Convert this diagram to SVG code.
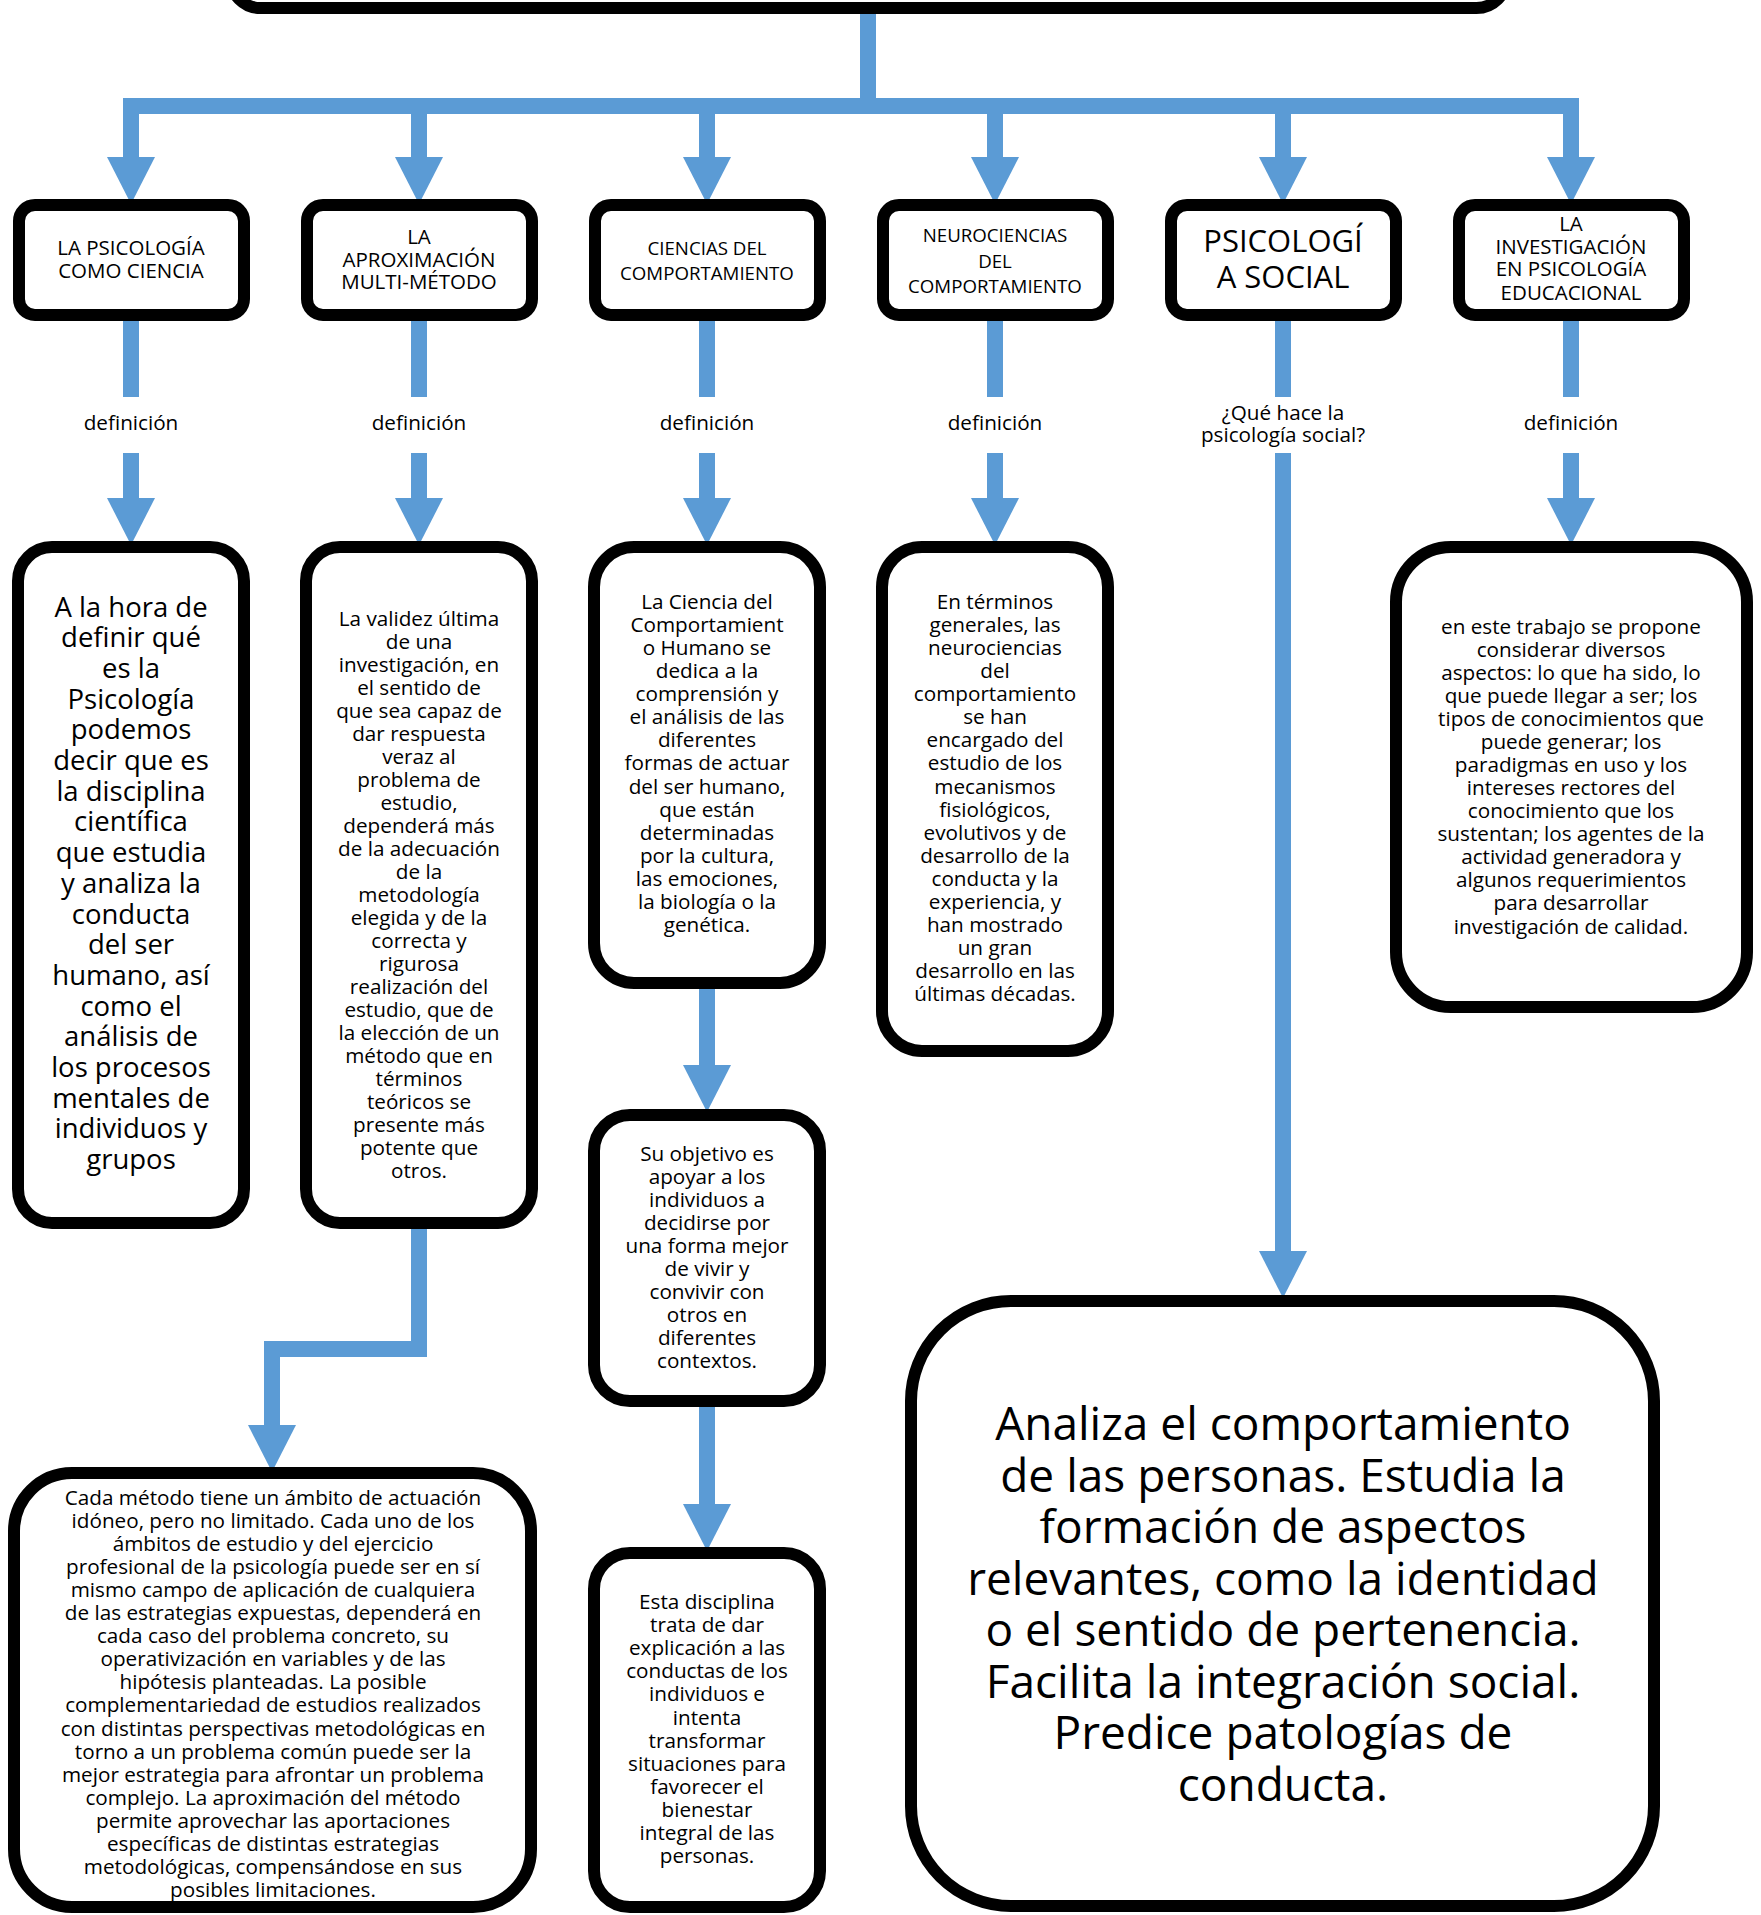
<svg xmlns="http://www.w3.org/2000/svg" width="1761" height="1915" viewBox="0 0 1761 1915">
<style>
.box{fill:#fff;stroke:#000;stroke-width:12}
.con{fill:none;stroke:#5B9BD5;stroke-width:16;stroke-linejoin:miter}
.t{font-family:"Open Sans","Noto Sans",sans-serif;fill:#000;text-anchor:middle}
.h{font-size:20.5px}
.hs{font-size:18.7px}
.b{font-size:20.7px}
.lbl{font-size:20.7px}
</style>
<defs>
<marker id="arr" markerUnits="userSpaceOnUse" viewBox="0 0 48 48" markerWidth="48" markerHeight="48" refX="0" refY="24" orient="auto">
<path d="M0,0 L47,24 L0,48 Z" fill="#5B9BD5"/>
</marker>
</defs>
<rect width="1761" height="1915" fill="#fff"/>

<g id="connectors">
<path class="con" d="M868,4 V106"/>
<path class="con" d="M123,106 H1579"/>
<path class="con" d="M131,106 V157" marker-end="url(#arr)"/>
<path class="con" d="M419,106 V157" marker-end="url(#arr)"/>
<path class="con" d="M707,106 V157" marker-end="url(#arr)"/>
<path class="con" d="M995,106 V157" marker-end="url(#arr)"/>
<path class="con" d="M1283,106 V157" marker-end="url(#arr)"/>
<path class="con" d="M1571,106 V157" marker-end="url(#arr)"/>
<path class="con" d="M131,315 V397"/>
<path class="con" d="M419,315 V397"/>
<path class="con" d="M707,315 V397"/>
<path class="con" d="M995,315 V397"/>
<path class="con" d="M1283,315 V397"/>
<path class="con" d="M1571,315 V397"/>
<path class="con" d="M131,453 V498" marker-end="url(#arr)"/>
<path class="con" d="M419,453 V498" marker-end="url(#arr)"/>
<path class="con" d="M707,453 V498" marker-end="url(#arr)"/>
<path class="con" d="M995,453 V498" marker-end="url(#arr)"/>
<path class="con" d="M1571,453 V498" marker-end="url(#arr)"/>
<path class="con" d="M1283,453 V1251" marker-end="url(#arr)"/>
<path class="con" d="M707,985 V1065" marker-end="url(#arr)"/>
<path class="con" d="M707,1403 V1504" marker-end="url(#arr)"/>
<path class="con" d="M419,1222 V1349 H272 V1425" marker-end="url(#arr)"/>
</g>

<g id="top">
<rect class="box" x="230.5" y="-200" width="1276" height="208" rx="30"/>
</g>

<g id="h1">
<rect class="box" x="19" y="205" width="225" height="110" rx="16"/>
<text class="t h"><tspan x="131" y="254.5">LA PSICOLOGÍA</tspan><tspan x="131" y="277.5">COMO CIENCIA</tspan></text>
</g>
<g id="h2">
<rect class="box" x="307" y="205" width="225" height="110" rx="16"/>
<text class="t h"><tspan x="419" y="244">LA</tspan><tspan x="419" y="266.5">APROXIMACIÓN</tspan><tspan x="419" y="288.5">MULTI-MÉTODO</tspan></text>
</g>
<g id="h3">
<rect class="box" x="595" y="205" width="225" height="110" rx="16"/>
<text class="t hs"><tspan x="707" y="255">CIENCIAS DEL</tspan><tspan x="707" y="280">COMPORTAMIENTO</tspan></text>
</g>
<g id="h4">
<rect class="box" x="883" y="205" width="225" height="110" rx="16"/>
<text class="t hs"><tspan x="995" y="242">NEUROCIENCIAS</tspan><tspan x="995" y="268">DEL</tspan><tspan x="995" y="293">COMPORTAMIENTO</tspan></text>
</g>
<g id="h5">
<rect class="box" x="1171" y="205" width="225" height="110" rx="16"/>
<text class="t" style="font-size:31px"><tspan x="1283" y="252">PSICOLOGÍ</tspan><tspan x="1283" y="288">A SOCIAL</tspan></text>
</g>
<g id="h6">
<rect class="box" x="1459" y="205" width="225" height="110" rx="16"/>
<text class="t h"><tspan x="1571" y="231">LA</tspan><tspan x="1571" y="254">INVESTIGACIÓN</tspan><tspan x="1571" y="276">EN PSICOLOGÍA</tspan><tspan x="1571" y="300">EDUCACIONAL</tspan></text>
</g>

<g id="labels">
<text class="t lbl" x="131" y="429.5">definición</text>
<text class="t lbl" x="419" y="429.5">definición</text>
<text class="t lbl" x="707" y="429.5">definición</text>
<text class="t lbl" x="995" y="429.5">definición</text>
<text class="t lbl"><tspan x="1283" y="419.5">¿Qué hace la</tspan><tspan x="1283" y="441.5">psicología social?</tspan></text>
<text class="t lbl" x="1571" y="429.5">definición</text>
</g>

<g id="boxA">
<rect class="box" x="18" y="547" width="226" height="676" rx="34"/>
<text class="t" style="font-size:27.5px"><tspan x="131" y="616.5">A la hora de</tspan><tspan x="131" dy="30.7">definir qué</tspan><tspan x="131" dy="30.7">es la</tspan><tspan x="131" dy="30.7">Psicología</tspan><tspan x="131" dy="30.7">podemos</tspan><tspan x="131" dy="30.7">decir que es</tspan><tspan x="131" dy="30.7">la disciplina</tspan><tspan x="131" dy="30.7">científica</tspan><tspan x="131" dy="30.7">que estudia</tspan><tspan x="131" dy="30.7">y analiza la</tspan><tspan x="131" dy="30.7">conducta</tspan><tspan x="131" dy="30.7">del ser</tspan><tspan x="131" dy="30.7">humano, así</tspan><tspan x="131" dy="30.7">como el</tspan><tspan x="131" dy="30.7">análisis de</tspan><tspan x="131" dy="30.7">los procesos</tspan><tspan x="131" dy="30.7">mentales de</tspan><tspan x="131" dy="30.7">individuos y</tspan><tspan x="131" dy="30.7">grupos</tspan></text>
</g>

<g id="boxB">
<rect class="box" x="306" y="547" width="226" height="676" rx="34"/>
<text class="t b"><tspan x="419" y="625.5">La validez última</tspan><tspan x="419" dy="23.02">de una</tspan><tspan x="419" dy="23.02">investigación, en</tspan><tspan x="419" dy="23.02">el sentido de</tspan><tspan x="419" dy="23.02">que sea capaz de</tspan><tspan x="419" dy="23.02">dar respuesta</tspan><tspan x="419" dy="23.02">veraz al</tspan><tspan x="419" dy="23.02">problema de</tspan><tspan x="419" dy="23.02">estudio,</tspan><tspan x="419" dy="23.02">dependerá más</tspan><tspan x="419" dy="23.02">de la adecuación</tspan><tspan x="419" dy="23.02">de la</tspan><tspan x="419" dy="23.02">metodología</tspan><tspan x="419" dy="23.02">elegida y de la</tspan><tspan x="419" dy="23.02">correcta y</tspan><tspan x="419" dy="23.02">rigurosa</tspan><tspan x="419" dy="23.02">realización del</tspan><tspan x="419" dy="23.02">estudio, que de</tspan><tspan x="419" dy="23.02">la elección de un</tspan><tspan x="419" dy="23.02">método que en</tspan><tspan x="419" dy="23.02">términos</tspan><tspan x="419" dy="23.02">teóricos se</tspan><tspan x="419" dy="23.02">presente más</tspan><tspan x="419" dy="23.02">potente que</tspan><tspan x="419" dy="23.02">otros.</tspan></text>
</g>

<g id="boxC">
<rect class="box" x="594" y="547" width="226" height="436" rx="40"/>
<text class="t b"><tspan x="707" y="609">La Ciencia del</tspan><tspan x="707" dy="23.07">Comportamient</tspan><tspan x="707" dy="23.07">o Humano se</tspan><tspan x="707" dy="23.07">dedica a la</tspan><tspan x="707" dy="23.07">comprensión y</tspan><tspan x="707" dy="23.07">el análisis de las</tspan><tspan x="707" dy="23.07">diferentes</tspan><tspan x="707" dy="23.07">formas de actuar</tspan><tspan x="707" dy="23.07">del ser humano,</tspan><tspan x="707" dy="23.07">que están</tspan><tspan x="707" dy="23.07">determinadas</tspan><tspan x="707" dy="23.07">por la cultura,</tspan><tspan x="707" dy="23.07">las emociones,</tspan><tspan x="707" dy="23.07">la biología o la</tspan><tspan x="707" dy="23.07">genética.</tspan></text>
</g>

<g id="boxD">
<rect class="box" x="882" y="547" width="226" height="504" rx="40"/>
<text class="t b"><tspan x="995" y="609">En términos</tspan><tspan x="995" dy="23.07">generales, las</tspan><tspan x="995" dy="23.07">neurociencias</tspan><tspan x="995" dy="23.07">del</tspan><tspan x="995" dy="23.07">comportamiento</tspan><tspan x="995" dy="23.07">se han</tspan><tspan x="995" dy="23.07">encargado del</tspan><tspan x="995" dy="23.07">estudio de los</tspan><tspan x="995" dy="23.07">mecanismos</tspan><tspan x="995" dy="23.07">fisiológicos,</tspan><tspan x="995" dy="23.07">evolutivos y de</tspan><tspan x="995" dy="23.07">desarrollo de la</tspan><tspan x="995" dy="23.07">conducta y la</tspan><tspan x="995" dy="23.07">experiencia, y</tspan><tspan x="995" dy="23.07">han mostrado</tspan><tspan x="995" dy="23.07">un gran</tspan><tspan x="995" dy="23.07">desarrollo en las</tspan><tspan x="995" dy="23.07">últimas décadas.</tspan></text>
</g>

<g id="boxF">
<rect class="box" x="1396" y="547" width="351" height="460" rx="55"/>
<text class="t b"><tspan x="1571" y="634">en este trabajo se propone</tspan><tspan x="1571" dy="23.04">considerar diversos</tspan><tspan x="1571" dy="23.04">aspectos: lo que ha sido, lo</tspan><tspan x="1571" dy="23.04">que puede llegar a ser; los</tspan><tspan x="1571" dy="23.04">tipos de conocimientos que</tspan><tspan x="1571" dy="23.04">puede generar; los</tspan><tspan x="1571" dy="23.04">paradigmas en uso y los</tspan><tspan x="1571" dy="23.04">intereses rectores del</tspan><tspan x="1571" dy="23.04">conocimiento que los</tspan><tspan x="1571" dy="23.04">sustentan; los agentes de la</tspan><tspan x="1571" dy="23.04">actividad generadora y</tspan><tspan x="1571" dy="23.04">algunos requerimientos</tspan><tspan x="1571" dy="23.04">para desarrollar</tspan><tspan x="1571" dy="23.04">investigación de calidad.</tspan></text>
</g>

<g id="boxC2">
<rect class="box" x="594" y="1115" width="226" height="286" rx="36"/>
<text class="t b"><tspan x="707" y="1160.5">Su objetivo es</tspan><tspan x="707" dy="23">apoyar a los</tspan><tspan x="707" dy="23">individuos a</tspan><tspan x="707" dy="23">decidirse por</tspan><tspan x="707" dy="23">una forma mejor</tspan><tspan x="707" dy="23">de vivir y</tspan><tspan x="707" dy="23">convivir con</tspan><tspan x="707" dy="23">otros en</tspan><tspan x="707" dy="23">diferentes</tspan><tspan x="707" dy="23">contextos.</tspan></text>
</g>

<g id="boxC3">
<rect class="box" x="594" y="1553" width="226" height="354" rx="36"/>
<text class="t b"><tspan x="707" y="1609">Esta disciplina</tspan><tspan x="707" dy="23.1">trata de dar</tspan><tspan x="707" dy="23.1">explicación a las</tspan><tspan x="707" dy="23.1">conductas de los</tspan><tspan x="707" dy="23.1">individuos e</tspan><tspan x="707" dy="23.1">intenta</tspan><tspan x="707" dy="23.1">transformar</tspan><tspan x="707" dy="23.1">situaciones para</tspan><tspan x="707" dy="23.1">favorecer el</tspan><tspan x="707" dy="23.1">bienestar</tspan><tspan x="707" dy="23.1">integral de las</tspan><tspan x="707" dy="23.1">personas.</tspan></text>
</g>

<g id="boxBL">
<rect class="box" x="14" y="1473" width="517" height="434" rx="58"/>
<text class="t b"><tspan x="273" y="1505">Cada método tiene un ámbito de actuación</tspan><tspan x="273" dy="23.05">idóneo, pero no limitado. Cada uno de los</tspan><tspan x="273" dy="23.05">ámbitos de estudio y del ejercicio</tspan><tspan x="273" dy="23.05">profesional de la psicología puede ser en sí</tspan><tspan x="273" dy="23.05">mismo campo de aplicación de cualquiera</tspan><tspan x="273" dy="23.05">de las estrategias expuestas, dependerá en</tspan><tspan x="273" dy="23.05">cada caso del problema concreto, su</tspan><tspan x="273" dy="23.05">operativización en variables y de las</tspan><tspan x="273" dy="23.05">hipótesis planteadas. La posible</tspan><tspan x="273" dy="23.05">complementariedad de estudios realizados</tspan><tspan x="273" dy="23.05">con distintas perspectivas metodológicas en</tspan><tspan x="273" dy="23.05">torno a un problema común puede ser la</tspan><tspan x="273" dy="23.05">mejor estrategia para afrontar un problema</tspan><tspan x="273" dy="23.05">complejo. La aproximación del método</tspan><tspan x="273" dy="23.05">permite aprovechar las aportaciones</tspan><tspan x="273" dy="23.05">específicas de distintas estrategias</tspan><tspan x="273" dy="23.05">metodológicas, compensándose en sus</tspan><tspan x="273" dy="23.05">posibles limitaciones.</tspan></text>
</g>

<g id="boxSocial">
<rect class="box" x="911" y="1301" width="743" height="605" rx="100"/>
<text class="t" style="font-size:46px"><tspan x="1283" y="1440">Analiza el comportamiento</tspan><tspan x="1283" dy="51.5">de las personas. Estudia la</tspan><tspan x="1283" dy="51.5">formación de aspectos</tspan><tspan x="1283" dy="51.5">relevantes, como la identidad</tspan><tspan x="1283" dy="51.5">o el sentido de pertenencia.</tspan><tspan x="1283" dy="51.5">Facilita la integración social.</tspan><tspan x="1283" dy="51.5">Predice patologías de</tspan><tspan x="1283" dy="51.5">conducta.</tspan></text>
</g>
</svg>
